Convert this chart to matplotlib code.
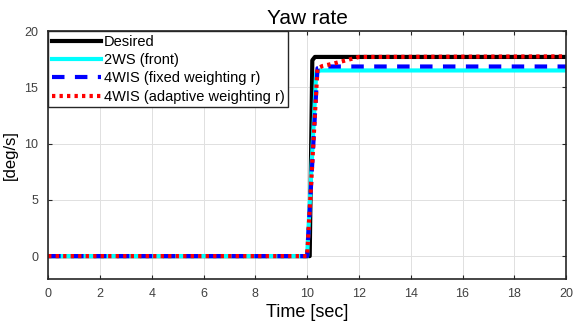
import matplotlib.pyplot as plt

plt.rcParams['font.family'] = ['Liberation Sans', 'DejaVu Sans']

# time [sec] / yaw rate [deg/s]
t_desired = [0, 10.1, 10.2, 10.3, 20]
r_desired = [0, 0, 17.4, 17.7, 17.7]

t_2ws = [0, 10.0, 10.35, 10.5, 20]
r_2ws = [0, 0, 16.3, 16.5, 16.5]

t_fixed = [0, 10.0, 10.4, 10.6, 20]
r_fixed = [0, 0, 16.7, 16.85, 16.85]

t_adapt = [0, 10.0, 10.4, 10.6, 11.0, 11.5, 12.0, 20]
r_adapt = [0, 0, 16.7, 16.9, 17.1, 17.4, 17.7, 17.75]

fig = plt.figure(figsize=(5.73, 3.27), dpi=100)
ax = fig.add_axes([0.084, 0.148, 0.904, 0.757])

ax.plot(t_desired, r_desired, color='black', lw=3, label='Desired')
ax.plot(t_2ws, r_2ws, color='cyan', lw=3, label='2WS (front)')
ax.plot(t_fixed, r_fixed, color='blue', lw=3, ls=(0, (3, 2.5)), label='4WIS (fixed weighting r)')
ax.plot(t_adapt, r_adapt, color='red', lw=3, ls=(0, (0.8, 1.0)), label='4WIS (adaptive weighting r)')

ax.set_xlim(0, 20)
ax.set_ylim(-2, 20)
ax.set_xticks(range(0, 21, 2))
ax.set_yticks([0, 5, 10, 15, 20])
ax.tick_params(direction='in', top=True, right=True, labelsize=9, labelcolor='#404040',
               color='#262626', length=3, pad=7)
ax.grid(True, color='#e0e0e0', lw=0.7)
for s in ax.spines.values():
    s.set_color('#262626')
    s.set_linewidth(1.2)

ax.set_title('Yaw rate', fontsize=15, pad=5)
ax.set_xlabel('Time [sec]', fontsize=13, labelpad=3)
ax.set_ylabel('[deg/s]', fontsize=12, labelpad=5)

leg = ax.legend(loc='upper left', fontsize=10.5, frameon=True, fancybox=False,
                borderpad=0.25, labelspacing=0.3, handlelength=3.4, handletextpad=0.15,
                borderaxespad=0)
leg.get_frame().set_edgecolor('#262626')
leg.get_frame().set_linewidth(1.0)
leg.get_frame().set_alpha(1)

fig.savefig('out.png', dpi=100)
